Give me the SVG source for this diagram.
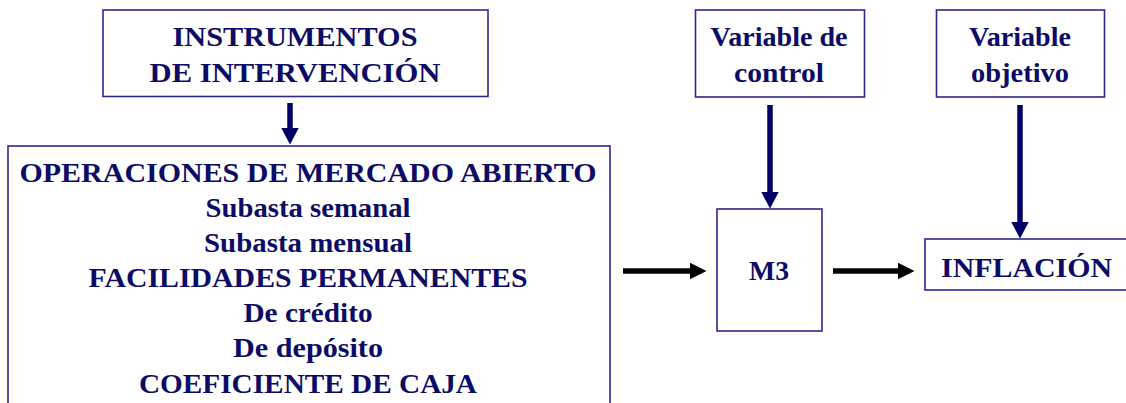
<svg xmlns="http://www.w3.org/2000/svg" width="1126" height="403" viewBox="0 0 1126 403">
<style>
  .box { fill: #ffffff; stroke: #2a2a8c; stroke-width: 1.6; }
  .t { font-family: "Liberation Serif", "DejaVu Serif", "Times New Roman", serif; font-weight: bold; font-size: 28px; fill: #0c0c66; text-anchor: middle; }
  .navy { stroke: #000066; stroke-width: 5.5; fill: none; }
  .black { stroke: #000000; stroke-width: 5.5; fill: none; }
</style>
<defs>
  <marker id="hNavy" markerUnits="userSpaceOnUse" markerWidth="18" markerHeight="18" refX="0.5" refY="9" orient="auto">
    <path d="M0,0 L17,9 L0,18 z" fill="#000066"/>
  </marker>
  <marker id="hBlack" markerUnits="userSpaceOnUse" markerWidth="17" markerHeight="17" refX="0.5" refY="8.5" orient="auto">
    <path d="M0,0 L17,8.5 L0,17 z" fill="#000000"/>
  </marker>
</defs>
<rect width="1126" height="403" fill="#ffffff"/>

<g id="instrumentos">
  <rect class="box" x="103" y="10" width="385" height="86.5"/>
  <text class="t" x="295" y="46" textLength="245" lengthAdjust="spacingAndGlyphs">INSTRUMENTOS</text>
  <text class="t" x="295" y="82" textLength="291" lengthAdjust="spacingAndGlyphs">DE INTERVENCIÓN</text>
</g>

<g id="operaciones">
  <rect class="box" x="8" y="146" width="602" height="300"/>
  <text class="t" x="308" y="182" textLength="577" lengthAdjust="spacingAndGlyphs">OPERACIONES DE MERCADO ABIERTO</text>
  <text class="t" x="308" y="217" textLength="205" lengthAdjust="spacingAndGlyphs">Subasta semanal</text>
  <text class="t" x="308" y="252" textLength="208" lengthAdjust="spacingAndGlyphs">Subasta mensual</text>
  <text class="t" x="308" y="287" textLength="439" lengthAdjust="spacingAndGlyphs">FACILIDADES PERMANENTES</text>
  <text class="t" x="308" y="322" textLength="129" lengthAdjust="spacingAndGlyphs">De crédito</text>
  <text class="t" x="308" y="357" textLength="150" lengthAdjust="spacingAndGlyphs">De depósito</text>
  <text class="t" x="308" y="393" textLength="338" lengthAdjust="spacingAndGlyphs">COEFICIENTE DE CAJA</text>
</g>

<g id="variable-control">
  <rect class="box" x="695.5" y="10" width="169" height="87"/>
  <text class="t" x="779" y="46" textLength="137" lengthAdjust="spacingAndGlyphs">Variable de</text>
  <text class="t" x="779" y="82" textLength="90" lengthAdjust="spacingAndGlyphs">control</text>
</g>

<g id="variable-objetivo">
  <rect class="box" x="936.5" y="10" width="168" height="87"/>
  <text class="t" x="1020" y="46" textLength="102" lengthAdjust="spacingAndGlyphs">Variable</text>
  <text class="t" x="1020" y="82" textLength="98" lengthAdjust="spacingAndGlyphs">objetivo</text>
</g>

<g id="m3">
  <rect class="box" x="717" y="209" width="105" height="122"/>
  <text class="t" x="769" y="280" textLength="40" lengthAdjust="spacingAndGlyphs">M3</text>
</g>

<g id="inflacion">
  <rect class="box" x="925" y="239" width="220" height="51"/>
  <text class="t" x="1026.5" y="277" textLength="171" lengthAdjust="spacingAndGlyphs">INFLACIÓN</text>
</g>

<g id="connectors">
  <line class="navy" x1="290" y1="103" x2="290" y2="128" marker-end="url(#hNavy)"/>
  <line class="navy" x1="770" y1="105" x2="770" y2="192" marker-end="url(#hNavy)"/>
  <line class="navy" x1="1020" y1="105" x2="1020" y2="222" marker-end="url(#hNavy)"/>
  <line class="black" x1="623" y1="271" x2="690" y2="271" marker-end="url(#hBlack)"/>
  <line class="black" x1="833" y1="271" x2="898" y2="271" marker-end="url(#hBlack)"/>
</g>
</svg>
